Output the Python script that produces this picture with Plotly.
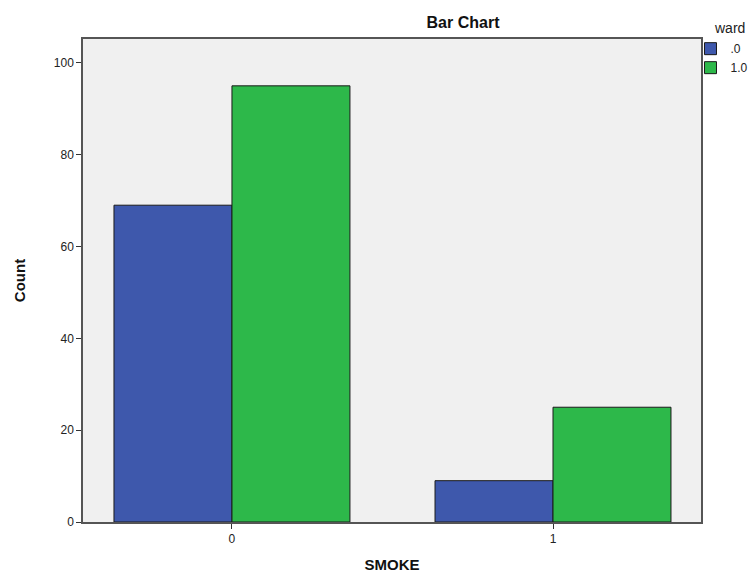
import plotly.graph_objects as go

categories = ["0", "1"]
ward_labels = [".0", "1.0"]
counts_ward0 = [69, 9]
counts_ward1 = [95, 25]
colors = ["#3E58AC", "#2DB84A"]

# page body has an 8px margin, so the figure is sized to fit the 756x578 window
W, H = 748, 570

fig = go.Figure()
for name, vals, col in zip(ward_labels, [counts_ward0, counts_ward1], colors):
    fig.add_trace(go.Bar(
        x=[0, 1], y=vals, name=name,
        marker=dict(color=col, line=dict(color="#1a1a1a", width=1)),
    ))

fig.update_layout(
    width=W, height=H,
    paper_bgcolor="white", plot_bgcolor="#F0F0F0",
    margin=dict(l=75, r=55, t=31, b=56, autoexpand=False),
    barmode="group", bargap=0.265, bargroupgap=0,
    font=dict(family="Liberation Sans, Arial, sans-serif", color="#222", size=12),
    title=dict(text="<b>Bar Chart</b>", x=455 / W, xanchor="center",
               y=1 - 14 / H, yanchor="middle", font=dict(size=16, color="#111")),
    xaxis=dict(
        range=[-0.464, 1.461], tickvals=[0, 1], ticktext=categories,
        showgrid=False, zeroline=False, ticks="outside", ticklen=5, tickcolor="#333",
        showline=True, linecolor="#555", linewidth=1.5, mirror=True,
        title=dict(text="<b>SMOKE</b>", font=dict(size=15, color="#111"), standoff=14),
        tickfont=dict(size=12, color="#222"),
    ),
    yaxis=dict(
        range=[0, 105.2], tickvals=[0, 20, 40, 60, 80, 100],
        showgrid=False, zeroline=False, ticks="outside", ticklen=5, tickcolor="#333",
        showline=True, linecolor="#555", linewidth=1.5, mirror=True,
        title=dict(text="<b>Count</b>", font=dict(size=15, color="#111"), standoff=25),
        tickfont=dict(size=12, color="#222"),
    ),
    legend=dict(
        x=0.983, xanchor="left", y=1.01, yanchor="top",
        bgcolor="rgba(0,0,0,0)", font=dict(size=12, color="#222"),
        itemwidth=30, tracegroupgap=0,
    ),
    annotations=[dict(
        text="ward", xref="paper", yref="paper",
        x=(704 - 75) / 618, xanchor="left", y=1 + (31 - 20) / 483, yanchor="middle",
        showarrow=False, font=dict(size=14, color="#222"),
    )],
)

fig.write_html("out.html")
